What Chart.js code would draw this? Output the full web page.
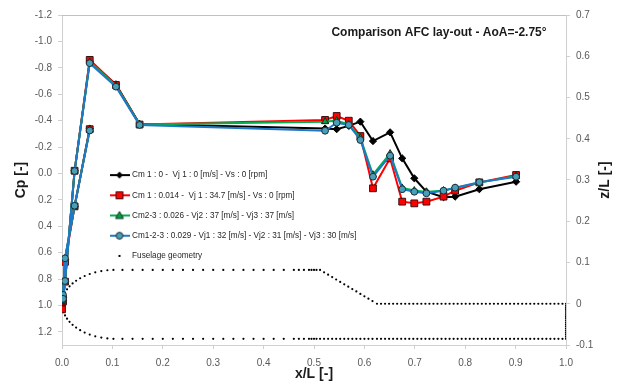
<!DOCTYPE html>
<html>
<head>
<meta charset="utf-8">
<script src="https://cdn.jsdelivr.net/npm/chart.js@4.4.1/dist/chart.umd.min.js"></script>
<style>
  html, body { margin: 0; padding: 0; background: #fff; }
  #wrap { width: 619px; height: 383px; }
</style>
</head>
<body>
<div id="wrap"><canvas id="cpChart" width="619" height="383"></canvas></div>
<script>
// tap stations x/L, in the order each curve runs: lower side -> nose -> upper side -> tail
var tapX = [0.055, 0.025, 0.006, 0.002, 0.000, 0.002, 0.006, 0.025, 0.055, 0.107, 0.154,
            0.522, 0.545, 0.569, 0.592, 0.617, 0.651, 0.675, 0.699, 0.723, 0.757, 0.780, 0.828, 0.901];

var cpNoBlow = [-0.34, 0.25, 0.65, 0.94, 1.00, 0.96, 0.82, -0.02, -0.85, -0.675, -0.375,
                -0.34, -0.335, -0.36, -0.392, -0.245, -0.311, -0.114, 0.037, 0.139, 0.18, 0.176, 0.12, 0.063];
var cpCm1 = [-0.335, 0.25, 0.67, 0.95, 1.03, 0.97, 0.82, -0.02, -0.86, -0.67, -0.37,
             -0.405, -0.435, -0.399, -0.283, 0.113, -0.114, 0.214, 0.227, 0.214, 0.176, 0.131, 0.068, 0.012];
var cpCm23 = [-0.33, 0.247, 0.645, 0.93, 0.97, 0.955, 0.815, -0.02, -0.845, -0.665, -0.37,
              -0.392, -0.40, -0.37, -0.27, 0.01, -0.15, 0.11, 0.13, 0.14, 0.13, 0.11, 0.07, 0.02];
var cpCm123 = [-0.325, 0.245, 0.643, 0.92, 0.955, 0.95, 0.815, -0.018, -0.835, -0.657, -0.367,
               -0.323, -0.384, -0.367, -0.253, 0.025, -0.134, 0.120, 0.139, 0.151, 0.131, 0.108, 0.067, 0.025];

// fuselage outline (z/L on the right axis)
var noseX = [0, 0.001, 0.003, 0.006, 0.010, 0.015, 0.021, 0.028, 0.036, 0.045, 0.055, 0.066, 0.078, 0.090, 0.102];
var noseTopZ = [0, 0.0113, 0.0195, 0.0273, 0.0349, 0.0422, 0.0492, 0.0558, 0.0618, 0.0673, 0.0721, 0.0761, 0.0792, 0.0812, 0.0820];
var noseBottomZ = [0, -0.0117, -0.0202, -0.0283, -0.0362, -0.0437, -0.0510, -0.0578, -0.0641, -0.0698, -0.0747, -0.0789, -0.0821, -0.0841, -0.0850];
var midX = [0.12, 0.14, 0.16, 0.18, 0.20, 0.22, 0.24, 0.26, 0.28, 0.30, 0.32, 0.34, 0.36, 0.38, 0.40,
            0.42, 0.44, 0.46, 0.47, 0.48, 0.49, 0.495, 0.50, 0.505];
var bodyTopZ = 0.082;
var rampX = [0.512, 0.520, 0.528, 0.536, 0.544, 0.552, 0.560, 0.568, 0.576, 0.584, 0.592, 0.600, 0.608, 0.616, 0.625];
var rampZ = [0.082, 0.0762, 0.0704, 0.0646, 0.0588, 0.0530, 0.0472, 0.0414, 0.0356, 0.0298, 0.0239, 0.0181, 0.0123, 0.0065, 0];
var tailX = [0.633, 0.641, 0.649, 0.657, 0.665, 0.673, 0.681, 0.689, 0.697, 0.705, 0.713, 0.721, 0.729, 0.737, 0.745,
             0.753, 0.761, 0.769, 0.777, 0.785, 0.793, 0.801, 0.809, 0.817, 0.825, 0.833, 0.841, 0.849, 0.857, 0.865,
             0.873, 0.881, 0.889, 0.897, 0.905, 0.913, 0.921, 0.929, 0.937, 0.945, 0.953, 0.961, 0.969, 0.977, 0.985, 0.993, 1.0];
var tailTopZ = 0;
var baseZ = [-0.005, -0.010, -0.015, -0.020, -0.025, -0.030, -0.035, -0.040, -0.045, -0.050, -0.055, -0.060, -0.065, -0.070, -0.075, -0.080];
var bodyBottomZ = -0.085;

// tick labels
var xTicks = [0, 0.1, 0.2, 0.3, 0.4, 0.5, 0.6, 0.7, 0.8, 0.9, 1.0];
var xTickLabels = ['0.0', '0.1', '0.2', '0.3', '0.4', '0.5', '0.6', '0.7', '0.8', '0.9', '1.0'];
var cpTicks = [-1.2, -1.0, -0.8, -0.6, -0.4, -0.2, 0, 0.2, 0.4, 0.6, 0.8, 1.0, 1.2];
var cpTickLabels = ['-1.2', '-1.0', '-0.8', '-0.6', '-0.4', '-0.2', '0.0', '0.2', '0.4', '0.6', '0.8', '1.0', '1.2'];
var zTicks = [-0.1, 0, 0.1, 0.2, 0.3, 0.4, 0.5, 0.6, 0.7];
var zTickLabels = ['-0.1', '0', '0.1', '0.2', '0.3', '0.4', '0.5', '0.6', '0.7'];

var seriesNames = [
  'Cm 1 : 0 -  Vj 1 : 0 [m/s] - Vs : 0 [rpm]',
  'Cm 1 : 0.014 -  Vj 1 : 34.7 [m/s] - Vs : 0 [rpm]',
  'Cm2-3 : 0.026 - Vj2 : 37 [m/s] - Vj3 : 37 [m/s]',
  'Cm1-2-3 : 0.029 - Vj1 : 32 [m/s] - Vj2 : 31 [m/s] - Vj3 : 30 [m/s]',
  'Fuselage geometry'
];
var chartTitle = 'Comparison AFC lay-out - AoA=-2.75\u00b0';
var rightTitle = 'z/L [-]';

var FONT = "'Liberation Sans', Arial, sans-serif";

function toPts(xs, ys) {
  return xs.map(function (x, i) { return { x: x, y: ys[i] }; });
}

var fuselagePts = [];
noseX.forEach(function (x, i) {
  fuselagePts.push({ x: x, y: noseTopZ[i] }, { x: x, y: noseBottomZ[i] });
});
midX.forEach(function (x) { fuselagePts.push({ x: x, y: bodyTopZ }); });
rampX.forEach(function (x, i) { fuselagePts.push({ x: x, y: rampZ[i] }); });
tailX.forEach(function (x) { fuselagePts.push({ x: x, y: tailTopZ }); });
baseZ.forEach(function (z) { fuselagePts.push({ x: 1, y: z }); });
midX.concat(rampX, tailX).forEach(function (x) { fuselagePts.push({ x: x, y: bodyBottomZ }); });

// little line+marker pictures for the legend
function legendIcon(kind, line, fill, edge) {
  var c = document.createElement('canvas');
  c.width = 20; c.height = 10;
  var g = c.getContext('2d');
  if (line) {
    g.strokeStyle = line; g.lineWidth = 2;
    g.beginPath(); g.moveTo(0, 5); g.lineTo(20, 5); g.stroke();
  }
  g.fillStyle = fill;
  g.beginPath();
  if (kind === 'diamond') { g.moveTo(10, 1.5); g.lineTo(13.5, 5); g.lineTo(10, 8.5); g.lineTo(6.5, 5); g.closePath(); }
  else if (kind === 'square') { g.rect(6.5, 1.5, 7, 7); }
  else if (kind === 'triangle') { g.moveTo(10, 1); g.lineTo(14, 8); g.lineTo(6, 8); g.closePath(); }
  else if (kind === 'circle') { g.arc(10, 5, 3.4, 0, Math.PI * 2); }
  else { g.rect(9, 4, 2, 2); }
  g.fill();
  if (edge) { g.strokeStyle = edge; g.lineWidth = 1; g.stroke(); }
  return c;
}

// drawn bottom-up: index 0 ends on top
var icons = [
  legendIcon('circle', '#1f78c8', '#4a9fb8', '#1b2b33'),
  legendIcon('triangle', '#00b050', '#00a04a', '#1b2b1b'),
  legendIcon('square', '#ff0000', '#ff0000', '#3a1010'),
  legendIcon('diamond', '#000000', '#000000', null),
  legendIcon('dot', null, '#000000', null)
];
var legendRank = [3, 2, 1, 0, 4];

var extras = {
  id: 'extras',
  afterLayout: function (chart) {
    var lg = chart.legend;
    lg.left = 99; lg.top = 159;
    lg.right = lg.left + 300; lg.bottom = lg.top + 200;
    lg.width = 300; lg.height = 200;
  },
  beforeDatasetsDraw: function (chart) {
    var a = chart.chartArea, c = chart.ctx;
    c.save();
    c.strokeStyle = '#b3c3dc'; c.lineWidth = 1;
    c.beginPath(); c.moveTo(a.left, a.top + 0.5); c.lineTo(a.right, a.top + 0.5); c.stroke();
    c.restore();
  },
  afterDraw: function (chart) {
    var a = chart.chartArea, c = chart.ctx;
    c.save();
    c.font = 'bold 12px ' + FONT;
    c.fillStyle = '#1a1a1a';
    c.textAlign = 'center'; c.textBaseline = 'middle';
    c.fillText(chartTitle, 439, 33);
    // right axis title reads bottom-to-top like the left one
    c.font = 'bold 14px ' + FONT;
    c.translate(605, (a.top + a.bottom) / 2);
    c.rotate(-Math.PI / 2);
    c.fillText(rightTitle, 0, 0);
    c.restore();
  }
};

var tickFont = { family: FONT, size: 10 };
var titleFont = { family: FONT, size: 14, weight: 'bold' };

var chart = new Chart(document.getElementById('cpChart').getContext('2d'), {
  type: 'scatter',
  data: {
    datasets: [
      { label: seriesNames[3], data: toPts(tapX, cpCm123), yAxisID: 'y', showLine: true,
        borderColor: '#1f78c8', borderWidth: 2, pointStyle: 'circle', pointRadius: 3.4,
        pointBackgroundColor: '#4a9fb8', pointBorderColor: '#1b2b33', pointBorderWidth: 1 },
      { label: seriesNames[2], data: toPts(tapX, cpCm23), yAxisID: 'y', showLine: true,
        borderColor: '#00b050', borderWidth: 2, pointStyle: 'triangle', pointRadius: 4,
        pointBackgroundColor: '#00a04a', pointBorderColor: '#1b2b1b', pointBorderWidth: 1 },
      { label: seriesNames[1], data: toPts(tapX, cpCm1), yAxisID: 'y', showLine: true,
        borderColor: '#ff0000', borderWidth: 2, pointStyle: 'rect', pointRadius: 4.8,
        pointBackgroundColor: '#ff0000', pointBorderColor: '#3a1010', pointBorderWidth: 1 },
      { label: seriesNames[0], data: toPts(tapX, cpNoBlow), yAxisID: 'y', showLine: true,
        borderColor: '#000000', borderWidth: 2, pointStyle: 'rectRot', pointRadius: 3.6,
        pointBackgroundColor: '#000000', pointBorderColor: '#000000', pointBorderWidth: 1 },
      { label: seriesNames[4], data: fuselagePts, yAxisID: 'y2', showLine: false,
        pointStyle: 'circle', pointRadius: 1.1, pointBorderWidth: 0,
        pointBackgroundColor: '#000000', borderColor: '#000000' }
    ]
  },
  options: {
    responsive: false,
    animation: false,
    events: [],
    layout: { padding: { top: 15, left: 0, right: 0, bottom: 0 } },
    plugins: {
      tooltip: { enabled: false },
      legend: {
        position: 'chartArea',
        align: 'start',
        labels: {
          usePointStyle: true,
          pointStyleWidth: 17,
          padding: 12,
          color: '#262626',
          font: { family: FONT, size: 8.2 },
          generateLabels: function (chart) {
            var items = Chart.defaults.plugins.legend.labels.generateLabels(chart);
            items.forEach(function (it) { it.pointStyle = icons[it.datasetIndex]; });
            return items;
          },
          sort: function (a, b) { return legendRank[a.datasetIndex] - legendRank[b.datasetIndex]; }
        }
      }
    },
    scales: {
      x: {
        type: 'linear', position: 'bottom', min: 0, max: 1,
        afterBuildTicks: function (s) { s.ticks = xTicks.map(function (v) { return { value: v }; }); },
        afterFit: function (s) { s.height = 38; },
        ticks: { color: '#595959', font: tickFont, padding: 8, maxRotation: 0, autoSkip: false,
                 callback: function (v, i) { return xTickLabels[i]; } },
        grid: { drawOnChartArea: false, tickLength: 4, color: '#d0d0d0' },
        border: { color: '#d0d0d0' },
        title: { display: true, text: 'x/L [-]', color: '#1a1a1a', font: titleFont, padding: { top: 0, bottom: 0 } }
      },
      y: {
        type: 'linear', position: 'left', reverse: true, min: -1.2, max: 1.3,
        afterBuildTicks: function (s) { s.ticks = cpTicks.map(function (v) { return { value: v }; }); },
        afterFit: function (s) { s.width = 62; },
        ticks: { color: '#595959', font: tickFont, padding: 6, autoSkip: false,
                 callback: function (v, i) { return cpTickLabels[i]; } },
        grid: { drawOnChartArea: false, tickLength: 4, color: '#d0d0d0' },
        border: { color: '#d0d0d0' },
        title: { display: true, text: 'Cp [-]', color: '#1a1a1a', font: titleFont, padding: { top: 13, bottom: 0 } }
      },
      y2: {
        type: 'linear', position: 'right', min: -0.1, max: 0.7,
        afterBuildTicks: function (s) { s.ticks = zTicks.map(function (v) { return { value: v }; }); },
        afterFit: function (s) { s.width = 53; },
        ticks: { color: '#595959', font: tickFont, padding: 6, autoSkip: false,
                 callback: function (v, i) { return zTickLabels[i]; } },
        grid: { drawOnChartArea: false, tickLength: 4, color: '#d0d0d0' },
        border: { color: '#d0d0d0' },
        title: { display: false }
      }
    }
  },
  plugins: [extras]
});
</script>
</body>
</html>
